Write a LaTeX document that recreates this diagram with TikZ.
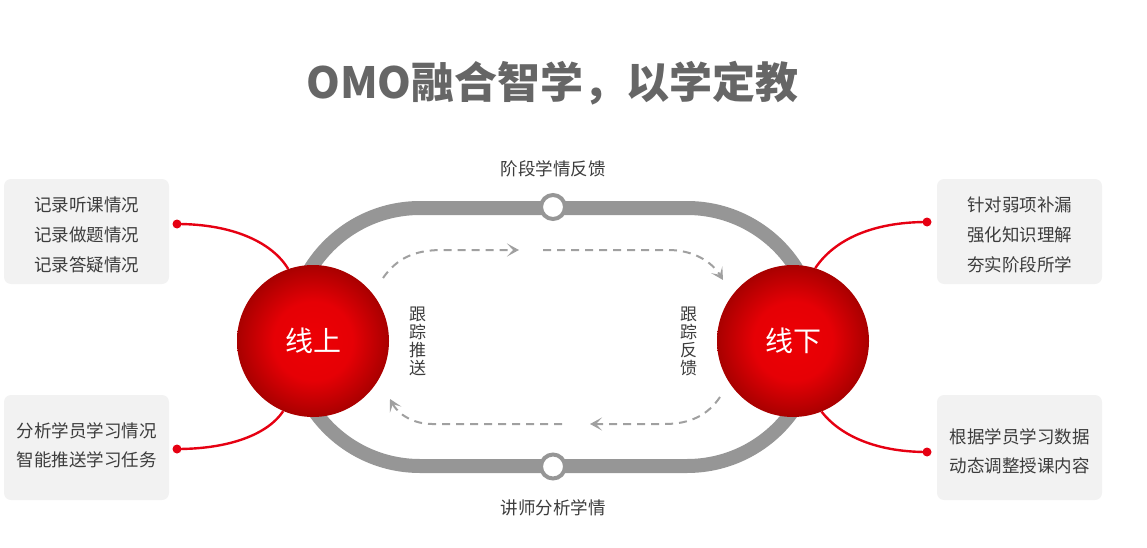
\documentclass[tikz,border=0pt]{standalone}
\usepackage{fontspec}
\setmainfont{Noto Sans CJK SC}
\usetikzlibrary{arrows.meta}
\definecolor{trackgray}{HTML}{969696}
\definecolor{dashgray}{HTML}{A0A0A0}
\definecolor{linered}{HTML}{E60012}
\definecolor{boxfill}{HTML}{F2F2F2}
\definecolor{txt}{HTML}{3C3C3C}
\definecolor{titlegray}{HTML}{666666}
\pgfdeclareradialshading{redball}{\pgfpoint{0bp}{0bp}}{rgb(0bp)=(0.93,0,0.02); rgb(13bp)=(0.90,0,0.02); rgb(25bp)=(0.66,0,0); rgb(50bp)=(0.66,0,0)}
\tikzset{
  track/.style={draw=trackgray, line width=14pt},
  ring/.style={circle, draw=trackgray, line width=4pt, fill=white, minimum size=24pt, inner sep=0pt},
  ball/.style={circle, minimum size=152pt, inner sep=0pt, shading=redball, text=white, font=\fontsize{28pt}{28pt}\selectfont},
  infobox/.style={rectangle, rounded corners=7pt, fill=boxfill, minimum width=165pt, minimum height=105pt, inner sep=0pt},
  infotext/.style={align=center, text=txt, inner sep=0pt, font=\fontsize{17.5pt}{30pt}\selectfont},
  infotextb/.style={align=center, text=txt, inner sep=0pt, font=\fontsize{17.5pt}{29pt}\selectfont},
  redlink/.style={draw=linered, line width=2.4pt},
  reddot/.style={circle, fill=linered, minimum size=9pt, inner sep=0pt},
  flow/.style={draw=dashgray, line width=2pt, dash pattern=on 8pt off 6pt, -{Stealth[length=12pt,width=13pt,inset=6pt]}},
  vlabel/.style={align=center, text=txt, inner sep=0pt, font=\fontsize{17pt}{18pt}\selectfont},
  tracklabel/.style={text=txt, inner sep=0pt, font=\fontsize{17.5pt}{20pt}\selectfont},
  titletext/.style={text=titlegray, inner sep=0pt, font=\fontsize{43pt}{43pt}\selectfont\bfseries}
}
\begin{document}
\begin{tikzpicture}[x=1pt,y=-1pt]
\useasboundingbox (0,0) rectangle (1147,548);
% title
\node[titletext] (title) at (552.5,83) {OMO融合智学，以学定教};
% race track
\draw[track, rounded corners=129pt] (291,208) rectangle (816,466);
% rings on the track
\node[ring] (ringT) at (553,207) {};
\node[ring] (ringB) at (553,466.5) {};
\node[tracklabel] (labT) at (553,168.5) {阶段学情反馈};
\node[tracklabel] (labB) at (553,507.5) {讲师分析学情};
% red balls
\node[ball] (L) at (313,341) {线上};
\node[ball] (R) at (793,341) {线下};
% vertical labels
\node[vlabel] (vL) at (417.5,341) {跟\\踪\\推\\送};
\node[vlabel] (vR) at (688.5,341) {跟\\踪\\反\\馈};
% dashed flow arrows
\coordinate (u1s) at (383,278);
\coordinate (u1e) at (519,250);
\coordinate (u2s) at (543,250);
\coordinate (u2e) at (723,280);
\coordinate (l1s) at (720,397);
\coordinate (l1e) at (590,424);
\coordinate (l2s) at (562,424);
\coordinate (l2e) at (390,399);
\draw[flow] (u1s) .. controls (397,258) and (415,250) .. (442,250) -- (u1e);
\draw[flow] (u2s) -- (668,250) .. controls (694,250) and (712,262) .. (u2e);
\draw[flow] (l1s) .. controls (708,415) and (690,424) .. (665,424) -- (l1e);
\draw[flow] (l2s) -- (432,424) .. controls (413,424) and (398,414) .. (l2e);
% info boxes
\node[infobox] (bLT) at (86.5,231.5) {};
\node[infobox] (bLB) at (86.5,447.5) {};
\node[infobox] (bRT) at (1019.5,231.5) {};
\node[infobox] (bRB) at (1019.5,447.5) {};
\node[infotext] (tLT) at (86.5,235) {记录听课情况\\记录做题情况\\记录答疑情况};
\node[infotextb] (tLB) at (86.5,445.5) {分析学员学习情况\\智能推送学习任务};
\node[infotext] (tRT) at (1019.5,235) {针对弱项补漏\\强化知识理解\\夯实阶段所学};
\node[infotextb] (tRB) at (1019.5,451.5) {根据学员学习数据\\动态调整授课内容};
% red dots
\node[reddot] (dLT) at (177,224) {};
\node[reddot] (dLB) at (177,449) {};
\node[reddot] (dRT) at (927,222) {};
\node[reddot] (dRB) at (927,452) {};
% red connectors
\draw[redlink] (dLT.center) .. controls (232,224) and (272,242) .. (L.109);
\draw[redlink] (dLB.center) .. controls (230,449) and (268,434) .. (L.-113);
\draw[redlink] (dRT.center) .. controls (872,222) and (834,240) .. (R.73);
\draw[redlink] (dRB.center) .. controls (872,452) and (838,433) .. (R.-68);
\end{tikzpicture}
\end{document}
